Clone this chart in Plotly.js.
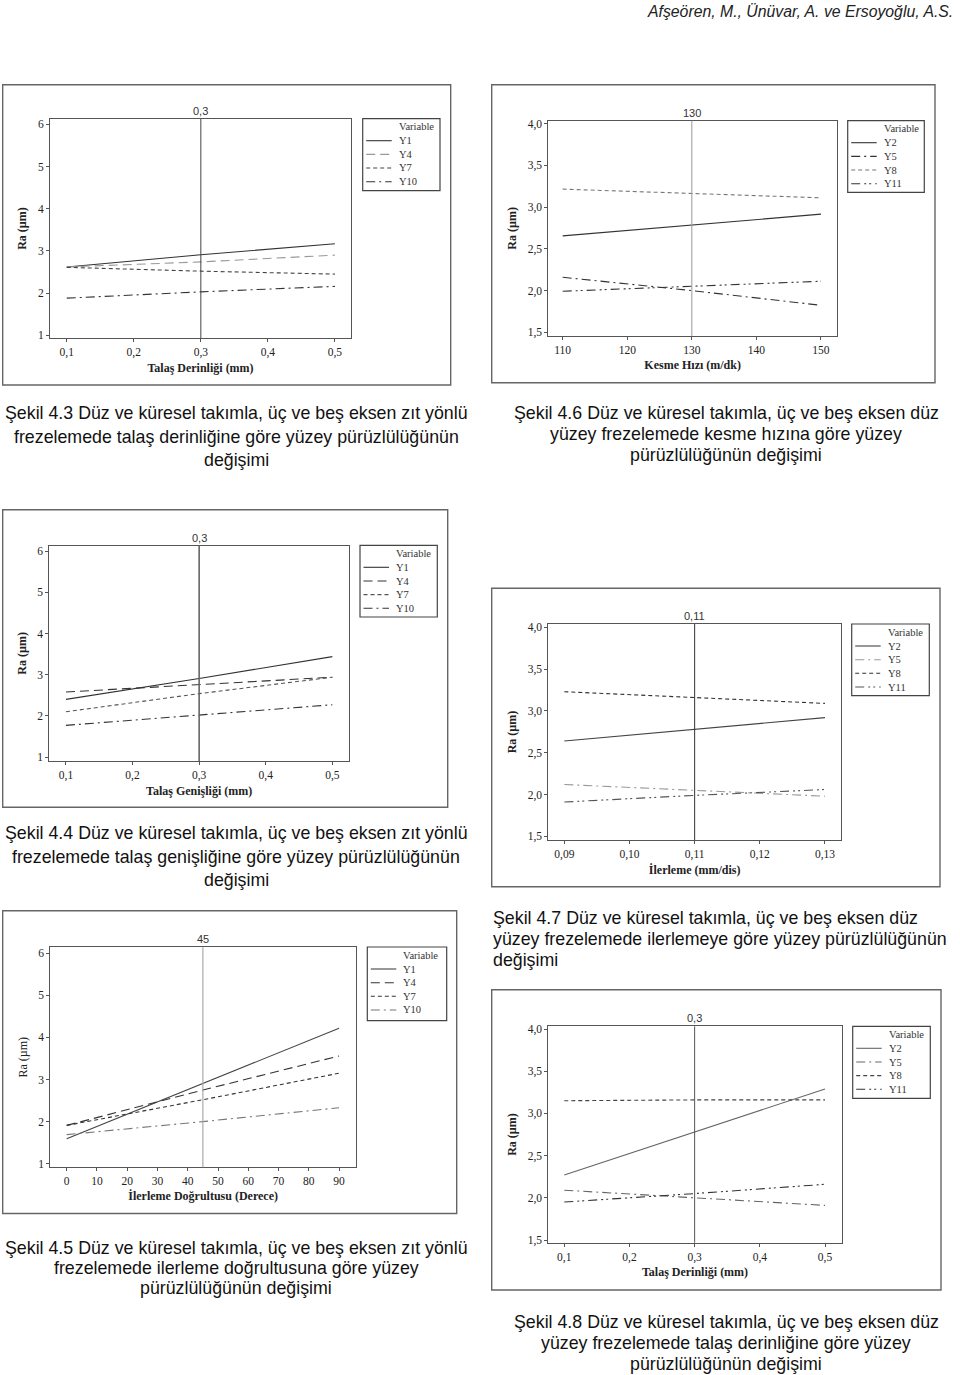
<!DOCTYPE html>
<html>
<head>
<meta charset="utf-8">
<script src="https://cdn.plot.ly/plotly-3.0.1.min.js"></script>
<style>html,body{margin:0;padding:0;background:#fff;}#chart{width:960px;height:1375px;}</style>
</head>
<body>
<div id="chart"></div>
<script>
// ---------- DATA ----------
const header = "Afşeören, M., Ünüvar, A. ve Ersoyoğlu, A.S.";

// Şekil 4.3 – talaş derinliği (zıt yönlü)
const c1X = [0.1, 0.3, 0.5];
const c1Y1 = [2.62, 2.91, 3.17];
const c1Y4 = [2.62, 2.74, 2.90];
const c1Y7 = [2.61, 2.52, 2.45];
const c1Y10 = [1.88, 2.03, 2.16];

// Şekil 4.6 – kesme hızı (düz)
const c2X = [110, 130, 150];
const c2Y2 = [2.656, 2.784, 2.916];
const c2Y5 = [2.16, 2.00, 1.824];
const c2Y8 = [3.216, 3.164, 3.112];
const c2Y11 = [1.992, 2.052, 2.112];

// Şekil 4.4 – talaş genişliği (zıt yönlü)
const c3X = [0.1, 0.3, 0.5];
const c3Y1 = [2.40, 2.91, 3.44];
const c3Y4 = [2.58, 2.76, 2.94];
const c3Y7 = [2.10, 2.54, 2.94];
const c3Y10 = [1.77, 2.02, 2.27];

// Şekil 4.7 – ilerleme (düz)
const c4X = [0.09, 0.11, 0.13];
const c4Y2 = [2.64, 2.78, 2.92];
const c4Y5 = [2.12, 2.05, 1.98];
const c4Y8 = [3.23, 3.16, 3.09];
const c4Y11 = [1.91, 1.99, 2.06];

// Şekil 4.5 – ilerleme doğrultusu (zıt yönlü)
const c5X = [0, 45, 90];
const c5Y1 = [1.59, 2.91, 4.22];
const c5Y4 = [1.91, 2.75, 3.56];
const c5Y7 = [1.91, 2.52, 3.15];
const c5Y10 = [1.69, 2.00, 2.33];

// Şekil 4.8 – talaş derinliği (düz)
const c6X = [0.1, 0.3, 0.5];
const c6Y2 = [2.27, 2.78, 3.29];
const c6Y5 = [2.09, 2.00, 1.91];
const c6Y8 = [3.15, 3.16, 3.16];
const c6Y11 = [1.95, 2.05, 2.16];

const refValues = [0.3, 130, 0.3, 0.11, 45, 0.3];
const xTitles = ["Talaş Derinliği (mm)", "Kesme Hızı (m/dk)", "Talaş Genişliği (mm)",
                 "İlerleme (mm/dis)", "İlerleme Doğrultusu (Derece)", "Talaş Derinliği (mm)"];
const yTitle = "Ra (µm)";
const legendTitle = "Variable";
const seriesNamesA = ["Y1", "Y4", "Y7", "Y10"];
const seriesNamesB = ["Y2", "Y5", "Y8", "Y11"];

const captions = [
  ["Şekil 4.3 Düz ve küresel takımla, üç ve beş eksen zıt yönlü",
   "frezelemede talaş derinliğine göre yüzey pürüzlülüğünün", "değişimi"],
  ["Şekil 4.6 Düz ve küresel takımla, üç ve beş eksen düz",
   "yüzey frezelemede kesme hızına göre yüzey", "pürüzlülüğünün değişimi"],
  ["Şekil 4.4 Düz ve küresel takımla, üç ve beş eksen zıt yönlü",
   "frezelemede talaş genişliğine göre yüzey pürüzlülüğünün", "değişimi"],
  ["Şekil 4.7 Düz ve küresel takımla, üç ve beş eksen düz",
   "yüzey frezelemede ilerlemeye göre yüzey pürüzlülüğünün", "değişimi"],
  ["Şekil 4.5 Düz ve küresel takımla, üç ve beş eksen zıt yönlü",
   "frezelemede ilerleme doğrultusuna göre yüzey", "pürüzlülüğünün değişimi"],
  ["Şekil 4.8 Düz ve küresel takımla, üç ve beş eksen düz",
   "yüzey frezelemede talaş derinliğine göre yüzey", "pürüzlülüğünün değişimi"]
];

// ---------- LAYOUT GEOMETRY (pixels) ----------
const W = 960, H = 1375;
const px = v => v / W;
const py = v => 1 - v / H;

const panels = [
  {plot:[50,119,351,338], frame:[2.7,84.7,450.7,385], leg:[362.7,118.7,440,190.7], xr:[0.075,0.524], yr:[0.936,6.126], xd:0.1, xf:'.1f', yd:1, yf:'d', refColor:'#444', refW:1},
  {plot:[548.3,120.7,837,336], frame:[491.7,84.7,935,382.7], leg:[847.7,120.7,924.3,192.3], xr:[107.77,152.48], yr:[1.456,4.036], xd:10, xf:'d', yd:0.5, yf:'.1f', refColor:'#999', refW:1},
  {plot:[49.3,545.7,349,761], frame:[2.7,509.7,447.7,807.3], leg:[360,545.3,437.3,617], xr:[0.075,0.525], yr:[0.903,6.136], xd:0.1, xf:'.1f', yd:1, yf:'d', refColor:'#666', refW:1.6},
  {plot:[548.3,624,841,840], frame:[491.7,588.3,940,886.7], leg:[851.7,624,929.3,695.7], xr:[0.08754,0.13246], yr:[1.456,4.04], xd:0.01, xf:'.2f', yd:0.5, yf:'.1f', refColor:'#333', refW:1},
  {plot:[50.3,947.3,356,1167.3], frame:[2.7,910.7,456.7,1213.5], leg:[367.3,947,446.7,1020.7], xr:[-5.42,95.6], yr:[0.914,6.143], xd:10, xf:'d', yd:1, yf:'d', refColor:'#aaa', refW:1.2},
  {plot:[548.3,1026.3,841.7,1242.7], frame:[491.7,989.7,941,1290], leg:[852.7,1026.3,930.3,1098.3], xr:[0.0755,0.5256], yr:[1.468,4.032], xd:0.1, xf:'.1f', yd:0.5, yf:'.1f', refColor:'#555', refW:1}
];

const dashA = ['solid', '9px,5px', '4px,3px', '9px,4px,2px,4px'];
const dashB = ['solid', '9px,4px,2px,4px', '4px,3px', '9px,4px,2px,3px,2px,4px'];

const panelSeries = [
  {x:c1X, ys:[c1Y1,c1Y4,c1Y7,c1Y10], names:seriesNamesA, dash:dashA, colors:['#333','#999','#444','#333']},
  {x:c2X, ys:[c2Y2,c2Y5,c2Y8,c2Y11], names:seriesNamesB, dash:dashB, colors:['#333','#333','#777','#333']},
  {x:c3X, ys:[c3Y1,c3Y4,c3Y7,c3Y10], names:seriesNamesA, dash:dashA, colors:['#333','#333','#555','#333']},
  {x:c4X, ys:[c4Y2,c4Y5,c4Y8,c4Y11], names:seriesNamesB, dash:dashB, colors:['#444','#999','#333','#555']},
  {x:c5X, ys:[c5Y1,c5Y4,c5Y7,c5Y10], names:seriesNamesA, dash:dashA, colors:['#444','#333','#333','#777']},
  {x:c6X, ys:[c6Y2,c6Y5,c6Y8,c6Y11], names:seriesNamesB, dash:dashB, colors:['#666','#666','#444','#333']}
];

const serif = "Liberation Serif, Times New Roman, serif";
const sans = "Liberation Sans, Arial, sans-serif";

const traces = [];
const layout = {
  width: W, height: H,
  margin: {l:0, r:0, t:0, b:0},
  paper_bgcolor: '#fff', plot_bgcolor: '#fff',
  separators: ', ',
  showlegend: false,
  shapes: [], annotations: []
};

panels.forEach((p, i) => {
  const n = i + 1;
  const xa = 'xaxis' + (n === 1 ? '' : n);
  const ya = 'yaxis' + (n === 1 ? '' : n);
  const xr = 'x' + (n === 1 ? '' : n);
  const yr = 'y' + (n === 1 ? '' : n);

  layout[xa] = {
    domain: [px(p.plot[0]), px(p.plot[2])], anchor: yr,
    range: p.xr, tick0: 0, dtick: p.xd, tickformat: p.xf,
    showline: true, mirror: true, linecolor: '#555', linewidth: 1,
    ticks: 'outside', ticklen: 3, tickcolor: '#555', showgrid: false, zeroline: false,
    tickfont: {family: serif, size: 11.5, color: '#222'},
    title: {text: '<b>' + xTitles[i] + '</b>', font: {family: serif, size: 12, color: '#222'}, standoff: 5},
    automargin: false
  };
  layout[ya] = {
    domain: [py(p.plot[3]), py(p.plot[1])], anchor: xr,
    range: p.yr, tick0: 0, dtick: p.yd, tickformat: p.yf,
    showline: true, mirror: true, linecolor: '#555', linewidth: 1,
    ticks: 'outside', ticklen: 3, tickcolor: '#555', showgrid: false, zeroline: false,
    tickfont: {family: serif, size: 11.5, color: '#222'},
    title: {text: (n === 5 ? yTitle : '<b>' + yTitle + '</b>'), font: {family: serif, size: 12, color: '#222'}, standoff: 8},
    automargin: false
  };

  const s = panelSeries[i];
  s.ys.forEach((yv, k) => {
    traces.push({
      type: 'scatter', mode: 'lines', x: s.x, y: yv, name: s.names[k],
      xaxis: xr, yaxis: yr,
      line: {color: s.colors[k], width: 1.1, dash: s.dash[k]},
      hoverinfo: 'skip'
    });
  });

  // reference vertical line + its label
  layout.shapes.push({
    type: 'line', xref: xr, yref: yr + ' domain',
    x0: refValues[i], x1: refValues[i], y0: 0, y1: 1,
    line: {color: p.refColor, width: p.refW}
  });
  layout.annotations.push({
    xref: xr, yref: yr + ' domain', x: refValues[i], y: 1,
    xanchor: 'center', yanchor: 'bottom', yshift: 0, showarrow: false,
    text: String(refValues[i]).replace('.', ','),
    font: {family: sans, size: 11, color: '#333'}
  });

  // outer frame of the picture
  layout.shapes.push({
    type: 'rect', xref: 'paper', yref: 'paper',
    x0: px(p.frame[0]), x1: px(p.frame[2]), y0: py(p.frame[3]), y1: py(p.frame[1]),
    line: {color: '#666', width: 1.4}, fillcolor: 'rgba(0,0,0,0)', layer: 'below'
  });

  // legend box (Minitab style) built from the series names / styles
  const L = p.leg;
  layout.shapes.push({
    type: 'rect', xref: 'paper', yref: 'paper',
    x0: px(L[0]), x1: px(L[2]), y0: py(L[3]), y1: py(L[1]),
    line: {color: '#444', width: 1.2}, fillcolor: '#fff'
  });
  layout.annotations.push({
    xref: 'paper', yref: 'paper', x: px(L[0] + 34), y: py(L[1] + 8),
    xanchor: 'left', yanchor: 'middle', showarrow: false, text: legendTitle,
    font: {family: serif, size: 10.5, color: '#333'}
  });
  const itemOff = [22, 35.7, 49.3, 63];
  s.names.forEach((nm, k) => {
    const yy = L[1] + itemOff[k];
    layout.shapes.push({
      type: 'line', xref: 'paper', yref: 'paper',
      x0: px(L[0] + 3.5), x1: px(L[0] + 29), y0: py(yy), y1: py(yy),
      line: {color: s.colors[k], width: 1.1, dash: s.dash[k]}
    });
    layout.annotations.push({
      xref: 'paper', yref: 'paper', x: px(L[0] + 34), y: py(yy),
      xanchor: 'left', yanchor: 'middle', showarrow: false, text: nm,
      font: {family: serif, size: 10.5, color: '#333'}
    });
  });
});

// captions
const capPos = [
  {x:236, ys:[413,437,460], align:'center'},
  {x:726, ys:[413,434,455], align:'center'},
  {x:236, ys:[833,857,880], align:'center'},
  {x:491, ys:[918,939,960], align:'left'},
  {x:236, ys:[1248,1268,1288], align:'center'},
  {x:726, ys:[1322,1343,1364], align:'center'}
];
captions.forEach((lines, i) => {
  const c = capPos[i];
  lines.forEach((t, j) => {
    layout.annotations.push({
      xref: 'paper', yref: 'paper', x: px(c.x), y: py(c.ys[j]),
      xanchor: c.align === 'left' ? 'left' : 'center', yanchor: 'middle',
      showarrow: false, text: t,
      font: {family: sans, size: 17.8, color: '#111'}
    });
  });
});

layout.annotations.push({
  xref: 'paper', yref: 'paper', x: px(955), y: py(12),
  xanchor: 'right', yanchor: 'middle', showarrow: false,
  text: '<i>' + header + '</i>',
  font: {family: sans, size: 15.8, color: '#222'}
});

Plotly.newPlot('chart', traces, layout, {staticPlot: true, displayModeBar: false});
</script>
</body>
</html>
